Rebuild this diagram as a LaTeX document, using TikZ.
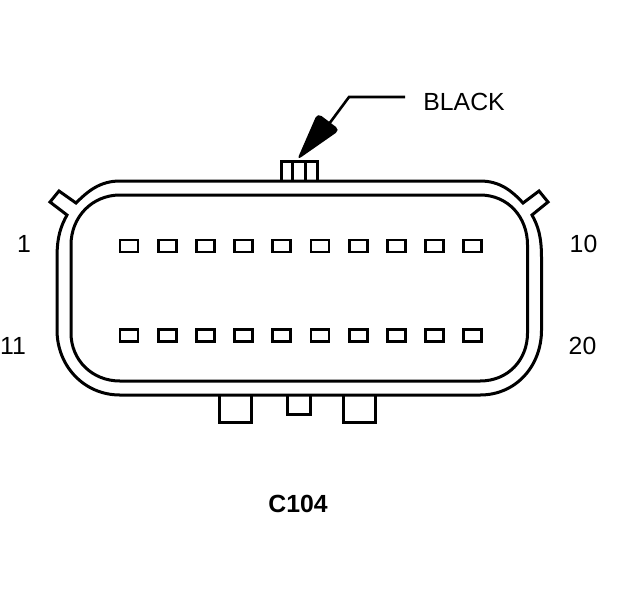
\documentclass[tikz,border=0pt]{standalone}
\usepackage{fontspec}
\setmainfont{Liberation Sans}
\usetikzlibrary{positioning}
\tikzset{
  wall/.style={line width=1.5pt},
  pin/.style={draw,line width=1.4pt,rectangle,inner sep=0pt,minimum width=9pt,minimum height=6pt},
  lbl/.style={inner sep=0pt,font=\fontsize{12.4}{14}\selectfont}
}
\begin{document}
\begin{tikzpicture}[x=0.5pt,y=-0.5pt]
    \useasboundingbox (0,0) rectangle (624,600);
    % shell
    \draw[wall] (120,181) -- (480,181) .. controls (500,181) and (512,191) .. (523,203)
        -- (539,191) -- (548,202) -- (532,215) .. controls (538,226) and (541.5,236) .. (541.5,258)
        -- (541.5,330) .. controls (541.5,366) and (516,395) .. (480,395)
        -- (120,395) .. controls (84,395) and (57,366) .. (57,330)
        -- (57,258) .. controls (57,236) and (61,226) .. (67,215)
        -- (50,202) -- (59,191) -- (76,203) .. controls (88,191) and (100,181) .. (120,181) -- cycle;
    \draw[wall] (120,195) -- (480,195) .. controls (508,195) and (527.5,217) .. (527.5,245)
        -- (527.5,333) .. controls (527.5,360) and (508,381) .. (480,381)
        -- (120,381) .. controls (92,381) and (71,360) .. (71,333)
        -- (71,245) .. controls (71,217) and (92,195) .. (120,195) -- cycle;
    % key on top
    \draw[wall] (281,181) -- (281,161) -- (317,161) -- (317,181);
    \draw[wall] (292.5,161) -- (292.5,181);
    \draw[wall] (305,161) -- (305,181);
    % feet
    \draw[wall] (219,395) -- (219,422.5) -- (251,422.5) -- (251,395);
    \draw[wall] (287.5,395) -- (287.5,414) -- (310,414) -- (310,395);
    \draw[wall] (343.5,395) -- (343.5,422.5) -- (375.5,422.5) -- (375.5,395);
    % pins
    \foreach \i in {1,...,10} {
        \node[pin] (upper\i) at ({129+38.2*(\i-1)},246) {};
        \node[pin] (lower\i) at ({129+38.2*(\i-1)},335.5) {};
    }
    % labels
    \node[lbl] (one) at (24,244) {1};
    \node[lbl] (ten) at (583.5,244) {10};
    \node[lbl] (eleven) at (13,346) {11};
    \node[lbl] (twenty) at (582.5,346) {20};
    \node[lbl,anchor=west] (black) at (423,102) {BLACK};
    \node[lbl,font=\fontsize{12.4}{14}\selectfont\bfseries] (name) at (298,504) {C104};
    % leader
    \coordinate (leadend) at (405,97);
    \coordinate (bend) at (349,97);
    \coordinate (tail) at (329,124);
    \coordinate (tip) at (297,160);
    \draw[line width=1.3pt] (leadend) -- (bend) -- (tail);
    \fill[rounded corners=2.5pt] (tip) -- (317.5,113) -- (340,130) -- cycle;
\end{tikzpicture}
\end{document}
